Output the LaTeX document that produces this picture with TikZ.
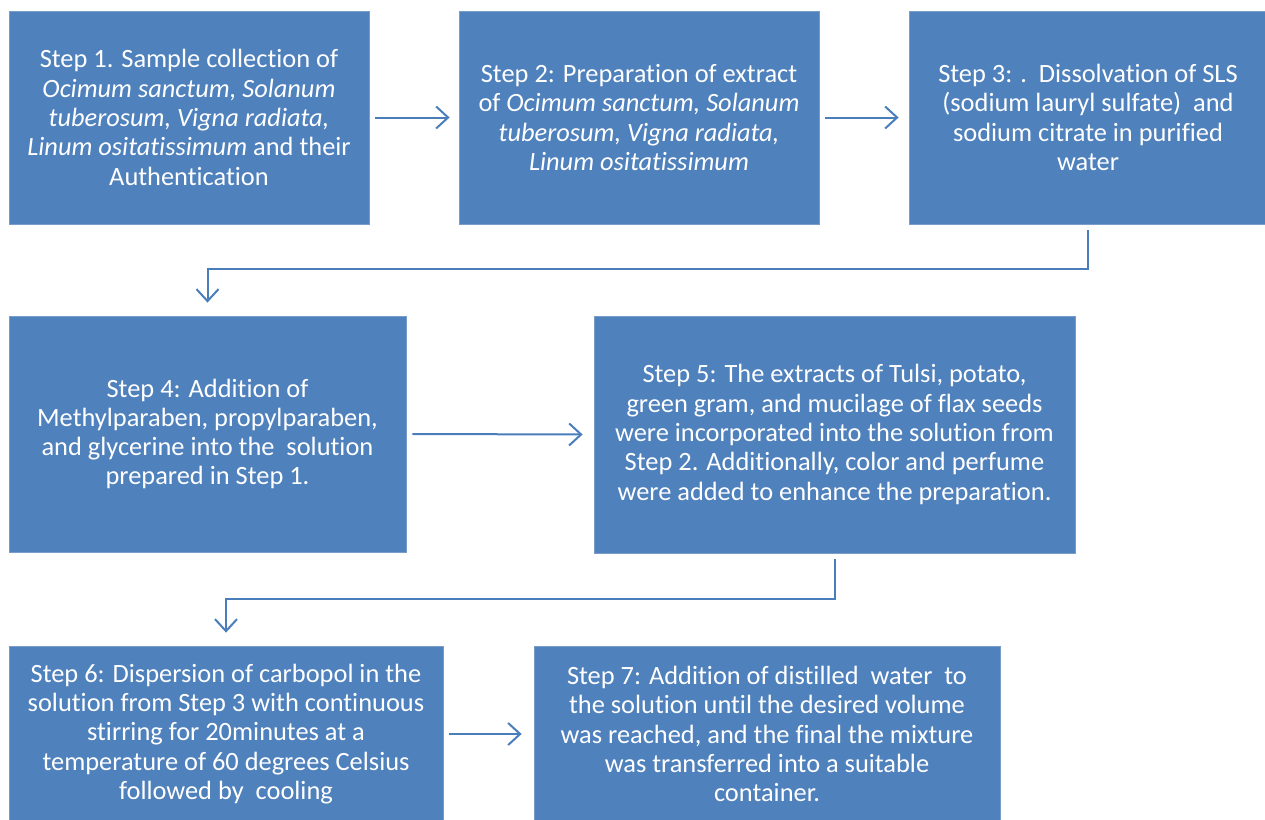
\documentclass[tikz,border=0pt]{standalone}
\usepackage{fontspec}
\setmainfont{Carlito}[Ligatures=NoCommon]
\usetikzlibrary{arrows.meta,calc}
\definecolor{boxblue}{HTML}{4F81BD}
\definecolor{boxedge}{HTML}{7A9CCB}
\definecolor{arrblue}{HTML}{4A7EBB}
\tikzset{
  stepbox/.style={rectangle, fill=boxblue, draw=boxedge, line width=0.8pt, inner sep=0pt,
    text=white, align=center, font=\fontsize{26.4}{29.3}\selectfont},
  arr/.style={draw=arrblue, line width=2pt, -{Straight Barb[length=12pt,width=22pt,line width=2pt]}}
}
\begin{document}
\begin{tikzpicture}[x=1pt,y=-1pt]
\useasboundingbox (0,0) rectangle (1265,819);
\node[stepbox, minimum width=360pt, minimum height=213pt] (b1) at (189,117.5)
  {Step 1. Sample collection of\\ \textit{Ocimum sanctum, Solanum}\\ \textit{tuberosum, Vigna radiata,}\\ \textit{Linum ositatissimum} and their\\ Authentication};
\node[stepbox, minimum width=360pt, minimum height=213pt] (b2) at (639,117.5)
  {Step 2: Preparation of extract\\ of \textit{Ocimum sanctum, Solanum}\\ \textit{tuberosum, Vigna radiata,}\\ \textit{Linum ositatissimum}};
\node[stepbox, minimum width=358pt, minimum height=213pt] (b3) at (1088,117.5)
  {Step 3: .\ \ Dissolvation of SLS\\ (sodium lauryl sulfate)\ \ and\\ sodium citrate in purified\\ water};
\node[stepbox, minimum width=397pt, minimum height=236pt] (b4) at (207.5,434)
  {Step 4: Addition of\\ Methylparaben, propylparaben,\\ and glycerine into the\ \ solution\\ prepared in Step 1.};
\node[stepbox, minimum width=481pt, minimum height=237pt] (b5) at (834.5,434.5)
  {Step 5: The extracts of Tulsi, potato,\\ green gram, and mucilage of flax seeds\\ were incorporated into the solution from\\ Step 2. Additionally, color and perfume\\ were added to enhance the preparation.};
\node[stepbox, minimum width=434pt, minimum height=176pt] (b6) at (226,734)
  {Step 6: Dispersion of carbopol in the\\ solution from Step 3 with continuous\\ stirring for 20minutes at a\\ temperature of 60 degrees Celsius\\ followed by\ \ cooling};
\node[stepbox, minimum width=466pt, minimum height=176pt] (b7) at (767,734)
  {Step 7: Addition of distilled\ \ water\ \ to\\ the solution until the desired volume\\ was reached, and the final the mixture\\ was transferred into a suitable\\ container.};
\coordinate (m1) at (b3.south |- 0,269);
\coordinate (m2) at (b5.south |- 0,599);
\draw[arr, shorten <=6pt, shorten >=9pt] (b1.east) -- (b2.west);
\draw[arr, shorten <=6pt, shorten >=10pt] (b2.east) -- (b3.west);
\draw[arr, shorten <=6pt, shorten >=13pt] (b3.south) -- (m1) -| (b4.north);
\draw[arr, shorten <=6pt, shorten >=11pt] (b4.east) -- (b5.west);
\draw[arr, shorten <=6pt, shorten >=13pt] (b5.south) -- (m2) -| (b6.north);
\draw[arr, shorten <=6pt, shorten >=12pt] (b6.east) -- (b7.west);
\end{tikzpicture}
\end{document}
